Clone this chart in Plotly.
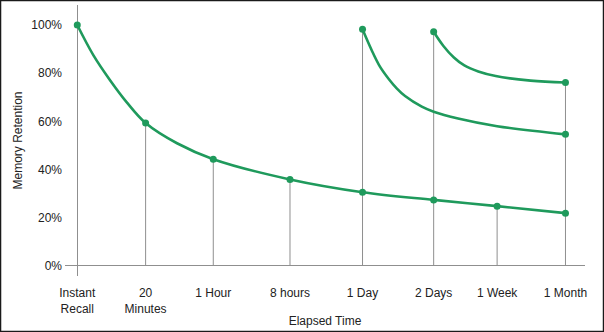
import plotly.graph_objects as go

# ---- data ----
time_labels = ["Instant<br>Recall", "20<br>Minutes", "1 Hour", "8 hours",
               "1 Day", "2 Days", "1 Week", "1 Month"]
# category positions along the elapsed-time axis (uneven spacing as in the source)
time_pos = [0, 0.98, 1.95, 3.05, 4.09, 5.11, 6.02, 7.0]

# first learning: retention (%) at each elapsed time (marked points)
first_retention = [100, 59.3, 44.3, 35.9, 30.6, 27.4, 24.8, 21.9]
# first learning: curve (time position, retention %)
first_curve_time = [0, 0.23, 0.47, 0.71, 0.98, 1.43, 1.95, 3.05, 4.09, 5.11, 6.02, 7.0]
first_curve_retention = [100, 87.5, 77.1, 67.9, 59.3, 50.9, 44.3, 35.9, 30.6, 27.4, 24.8, 21.9]

# review after 1 day: curve (time position, retention %)
review1_time = [4.09, 4.22, 4.34, 4.46, 4.58, 4.70, 4.94, 5.11, 5.46, 6.02, 7.0]
review1_retention = [98.2, 89.6, 82.7, 77.8, 73.7, 70.5, 66.1, 64.0, 61.2, 58.0, 54.6]

# review after 2 days: curve (time position, retention %)
review2_time = [5.11, 5.25, 5.40, 5.55, 5.75, 6.00, 6.50, 7.0]
review2_retention = [97.2, 91.3, 86.5, 83.2, 80.7, 78.8, 76.9, 76.1]

y_ticks = [0, 20, 40, 60, 80, 100]
y_tick_text = ["0%", "20%", "40%", "60%", "80%", "100%"]

GREEN = "#1f9a5c"
GRAY = "#8f8f8f"

fig = go.Figure()

# vertical drop lines: from 0 up to the highest marked point at each time
marked = {}
for x, y in zip(time_pos, first_retention):
    marked[x] = max(marked.get(x, 0), y)
for xs, ys in ((review1_time, review1_retention), (review2_time, review2_retention)):
    for x, y in ((xs[0], ys[0]), (xs[-1], ys[-1])):
        marked[x] = max(marked.get(x, 0), y)
dx, dy = [], []
for x in time_pos[1:]:
    dx += [x, x, None]
    dy += [0, marked[x], None]
fig.add_trace(go.Scatter(x=dx, y=dy, mode="lines", line=dict(color=GRAY, width=1),
                         hoverinfo="skip", showlegend=False))

line_style = dict(color=GREEN, width=2.6, shape="spline", smoothing=1.0)
mk = dict(color=GREEN, size=7)

fig.add_trace(go.Scatter(x=first_curve_time, y=first_curve_retention, mode="lines",
                         line=line_style, showlegend=False))
fig.add_trace(go.Scatter(x=review1_time, y=review1_retention, mode="lines",
                         line=line_style, showlegend=False))
fig.add_trace(go.Scatter(x=review2_time, y=review2_retention, mode="lines",
                         line=line_style, showlegend=False))

fig.add_trace(go.Scatter(x=time_pos, y=first_retention, mode="markers",
                         marker=mk, showlegend=False))
fig.add_trace(go.Scatter(x=[review1_time[0], review1_time[-1], review2_time[0], review2_time[-1]],
                         y=[review1_retention[0], review1_retention[-1],
                            review2_retention[0], review2_retention[-1]],
                         mode="markers", marker=mk, showlegend=False))

FONT = "Liberation Sans, Arial, sans-serif"

fig.update_layout(
    width=604, height=332,
    margin=dict(l=65, r=19, t=5, b=56),
    paper_bgcolor="white", plot_bgcolor="white",
    font=dict(family=FONT, size=12, color="#222222"),
    xaxis=dict(range=[-0.176, 7.28], tickmode="array", tickvals=time_pos,
               ticktext=time_labels, showgrid=False, showline=False,
               zeroline=True, zerolinecolor=GRAY, zerolinewidth=1,
               ticks="", ticklabelstandoff=8, tickfont=dict(size=12),
               title=dict(text="Elapsed Time", standoff=2, font=dict(size=12))),
    yaxis=dict(range=[-4.2, 108.3], tickmode="array", tickvals=y_ticks,
               ticktext=y_tick_text, showgrid=False, showline=False,
               zeroline=True, zerolinecolor=GRAY, zerolinewidth=1,
               ticks="", ticklabelstandoff=2, tickfont=dict(size=12),
               title=dict(text="Memory Retention", standoff=6, font=dict(size=12))),
    shapes=[dict(type="rect", xref="paper", yref="paper",
                 x0=-0.124, x1=1.0356, y0=-0.2048, y1=1.0166,
                 line=dict(color="#1a1a1a", width=1.5), layer="above")],
)

fig.write_html("out.html")
